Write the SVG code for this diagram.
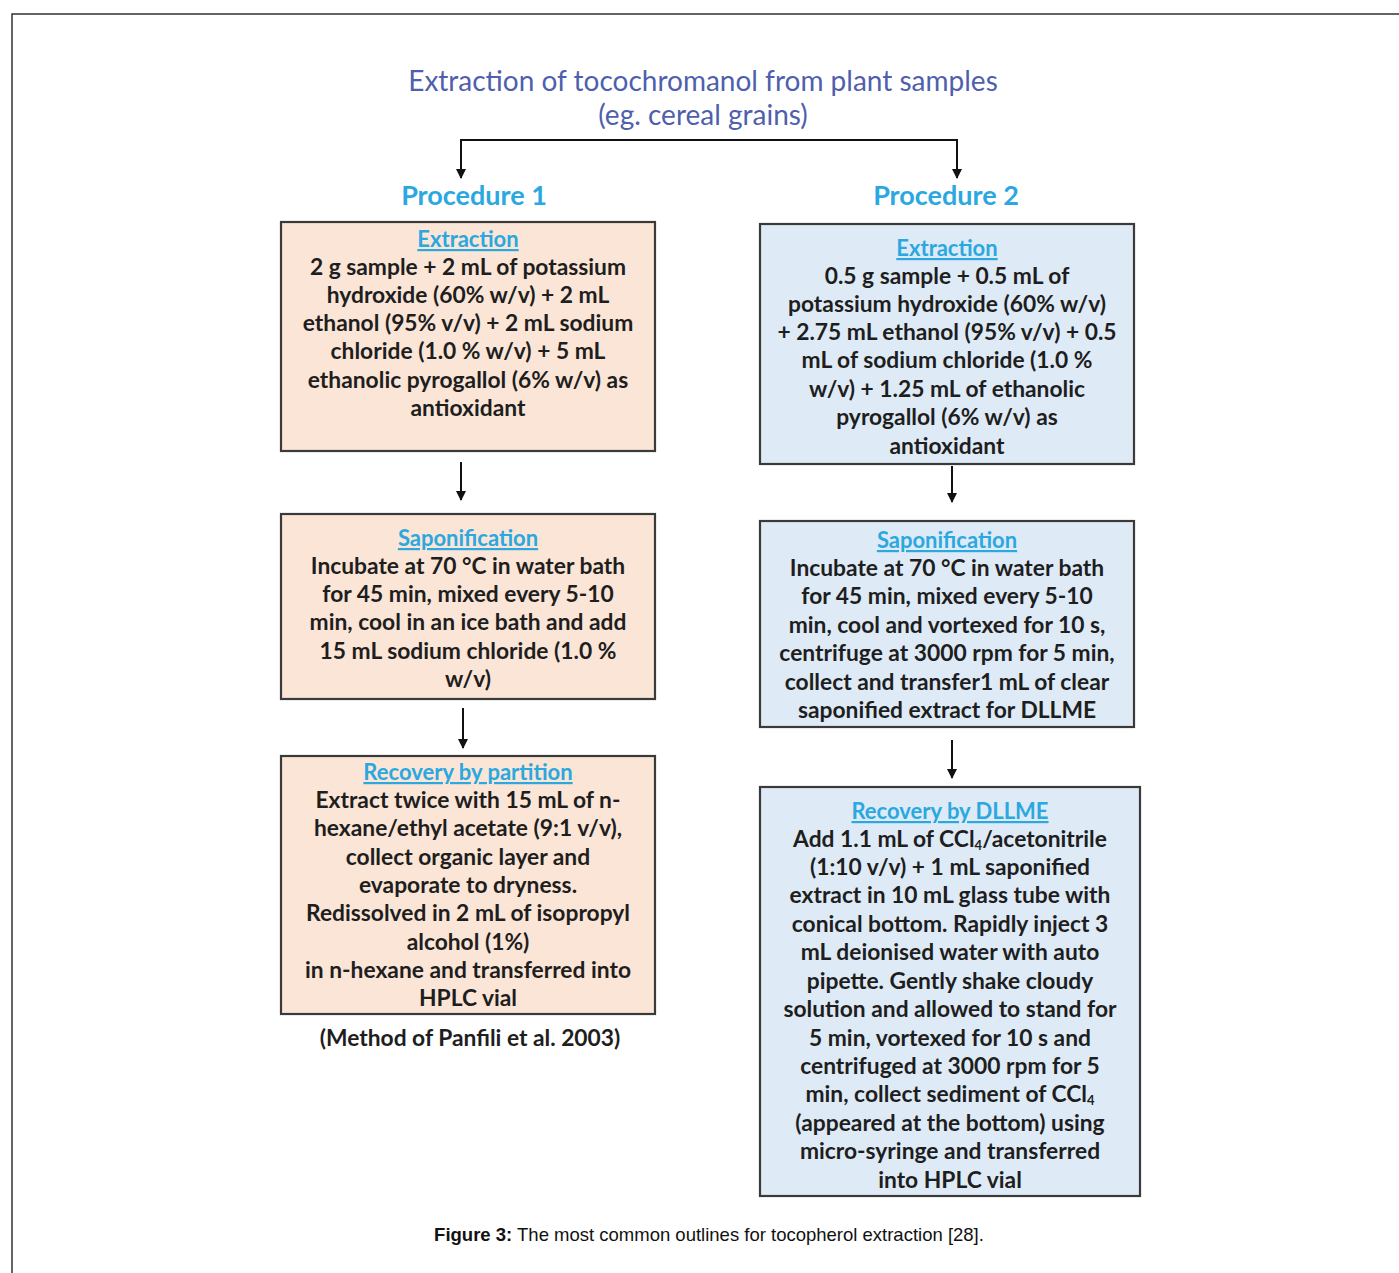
<svg xmlns="http://www.w3.org/2000/svg" width="1399" height="1273" viewBox="0 0 1399 1273">
<defs>
<style>
.frame{fill:none;stroke:#333;stroke-width:1.5}
.title{font-family:Lato,"Liberation Sans",sans-serif;font-size:28px;fill:#4f5fae;text-anchor:middle}
.proc{font-family:Lato,"Liberation Sans",sans-serif;font-size:27px;font-weight:bold;fill:#2aa8df;text-anchor:middle}
.boxL{fill:#fbe5d6;stroke:#3a3a3a;stroke-width:2.2}
.boxR{fill:#deebf7;stroke:#3a3a3a;stroke-width:2.2}
.t{font-family:Lato,"Liberation Sans",sans-serif;font-size:22.8px;font-weight:bold;fill:#1e1e1e;text-anchor:middle}
.h{font-family:Lato,"Liberation Sans",sans-serif;font-size:22px;font-weight:bold;fill:#2aa8df;text-anchor:middle;text-decoration:underline}
.cap{font-family:"Liberation Sans",Arial,sans-serif;font-size:18.5px;fill:#111;text-anchor:middle}
.ln{fill:none;stroke:#111;stroke-width:2}
.sub{font-size:13px}
</style>
<marker id="ah" viewBox="0 0 10 10" refX="9" refY="5" markerWidth="5" markerHeight="5" orient="auto" markerUnits="strokeWidth">
<path d="M0,0 L10,5 L0,10 Z" fill="#111"/>
</marker>
</defs>
<rect width="1399" height="1273" fill="#fff"/>
<path class="frame" d="M12,1273 V14 H1399"/>

<g id="title">
<text class="title" x="703" y="91">Extraction of tocochromanol  from plant samples</text>
<text class="title" x="703" y="125">(eg. cereal grains)</text>
</g>
<g id="proc1"><text class="proc" x="474" y="205">Procedure 1</text></g>
<g id="proc2"><text class="proc" x="946" y="205">Procedure 2</text></g>

<g id="connectors">
<path class="ln" d="M709,140 H461 V178" marker-end="url(#ah)"/>
<path class="ln" d="M709,140 H957 V178" marker-end="url(#ah)"/>
<path class="ln" d="M461,462 V500" marker-end="url(#ah)"/>
<path class="ln" d="M463,708 V748" marker-end="url(#ah)"/>
<path class="ln" d="M952,466 V502" marker-end="url(#ah)"/>
<path class="ln" d="M952,740 V778" marker-end="url(#ah)"/>
</g>

<g id="p1-extraction">
<rect class="boxL" x="281" y="222" width="374" height="229"/>
<text class="h" x="468" y="247">Extraction</text>
<text class="t" x="468" y="275">2 g sample + 2 mL of potassium</text>
<text class="t" x="468" y="303">hydroxide (60% w/v) + 2 mL</text>
<text class="t" x="468" y="331">ethanol (95% v/v) + 2 mL sodium</text>
<text class="t" x="468" y="359">chloride (1.0  % w/v) + 5 mL</text>
<text class="t" x="468" y="388">ethanolic pyrogallol (6% w/v) as</text>
<text class="t" x="468" y="416">antioxidant</text>
</g>

<g id="p1-saponification">
<rect class="boxL" x="281" y="514" width="374" height="185"/>
<text class="h" x="468" y="546">Saponification</text>
<text class="t" x="468" y="574">Incubate at 70 °C in water bath</text>
<text class="t" x="468" y="602">for 45 min, mixed every 5-10</text>
<text class="t" x="468" y="630">min, cool in an ice bath and add</text>
<text class="t" x="468" y="659">15 mL sodium chloride (1.0  %</text>
<text class="t" x="468" y="687">w/v)</text>
</g>

<g id="p1-recovery">
<rect class="boxL" x="281" y="756" width="374" height="258"/>
<text class="h" x="468" y="780">Recovery by partition</text>
<text class="t" x="468" y="808">Extract twice with 15 mL of n-</text>
<text class="t" x="468" y="836">hexane/ethyl acetate (9:1 v/v),</text>
<text class="t" x="468" y="865">collect organic layer and</text>
<text class="t" x="468" y="893">evaporate to dryness.</text>
<text class="t" x="468" y="921">Redissolved in 2 mL of isopropyl</text>
<text class="t" x="468" y="950">alcohol (1%)</text>
<text class="t" x="468" y="978">in n-hexane and transferred  into</text>
<text class="t" x="468" y="1006">HPLC vial</text>
</g>
<g id="p1-ref"><text class="t" x="470" y="1046">(Method of Panfili et al. 2003)</text></g>

<g id="p2-extraction">
<rect class="boxR" x="760" y="224" width="374" height="240"/>
<text class="h" x="947" y="256">Extraction</text>
<text class="t" x="947" y="284">0.5 g sample + 0.5 mL of</text>
<text class="t" x="947" y="312">potassium  hydroxide (60% w/v)</text>
<text class="t" x="947" y="340">+ 2.75 mL ethanol (95% v/v) + 0.5</text>
<text class="t" x="947" y="368">mL of sodium  chloride (1.0  %</text>
<text class="t" x="947" y="397">w/v) + 1.25 mL of ethanolic</text>
<text class="t" x="947" y="425">pyrogallol  (6% w/v) as</text>
<text class="t" x="947" y="454">antioxidant</text>
</g>

<g id="p2-saponification">
<rect class="boxR" x="760" y="521" width="374" height="206"/>
<text class="h" x="947" y="548">Saponification</text>
<text class="t" x="947" y="576">Incubate at 70 °C in water bath</text>
<text class="t" x="947" y="604">for 45 min, mixed every 5-10</text>
<text class="t" x="947" y="633">min, cool and  vortexed for 10 s,</text>
<text class="t" x="947" y="661">centrifuge at 3000 rpm for 5 min,</text>
<text class="t" x="947" y="690">collect and  transfer1 mL of clear</text>
<text class="t" x="947" y="718">saponified extract for DLLME</text>
</g>

<g id="p2-recovery">
<rect class="boxR" x="760" y="787" width="380" height="409"/>
<text class="h" x="950" y="819">Recovery by DLLME</text>
<text class="t" x="950" y="847">Add 1.1 mL of CCl<tspan class="sub" dy="3">4</tspan><tspan dy="-3">/acetonitrile</tspan></text>
<text class="t" x="950" y="875">(1:10 v/v) + 1 mL saponified</text>
<text class="t" x="950" y="903">extract in 10 mL glass tube with</text>
<text class="t" x="950" y="932">conical bottom. Rapidly inject 3</text>
<text class="t" x="950" y="960">mL deionised  water with auto</text>
<text class="t" x="950" y="989">pipette. Gently shake cloudy</text>
<text class="t" x="950" y="1017">solution  and allowed to stand for</text>
<text class="t" x="950" y="1046">5 min, vortexed for 10 s and</text>
<text class="t" x="950" y="1074">centrifuged at 3000 rpm  for 5</text>
<text class="t" x="950" y="1102">min, collect sediment of CCl<tspan class="sub" dy="3">4</tspan></text>
<text class="t" x="950" y="1131">(appeared at the bottom) using</text>
<text class="t" x="950" y="1159">micro-syringe and transferred</text>
<text class="t" x="950" y="1188">into HPLC vial</text>
</g>

<g id="caption"><text class="cap" x="709" y="1241"><tspan font-weight="bold">Figure 3:</tspan> The most common outlines for tocopherol extraction [28].</text></g>
</svg>
